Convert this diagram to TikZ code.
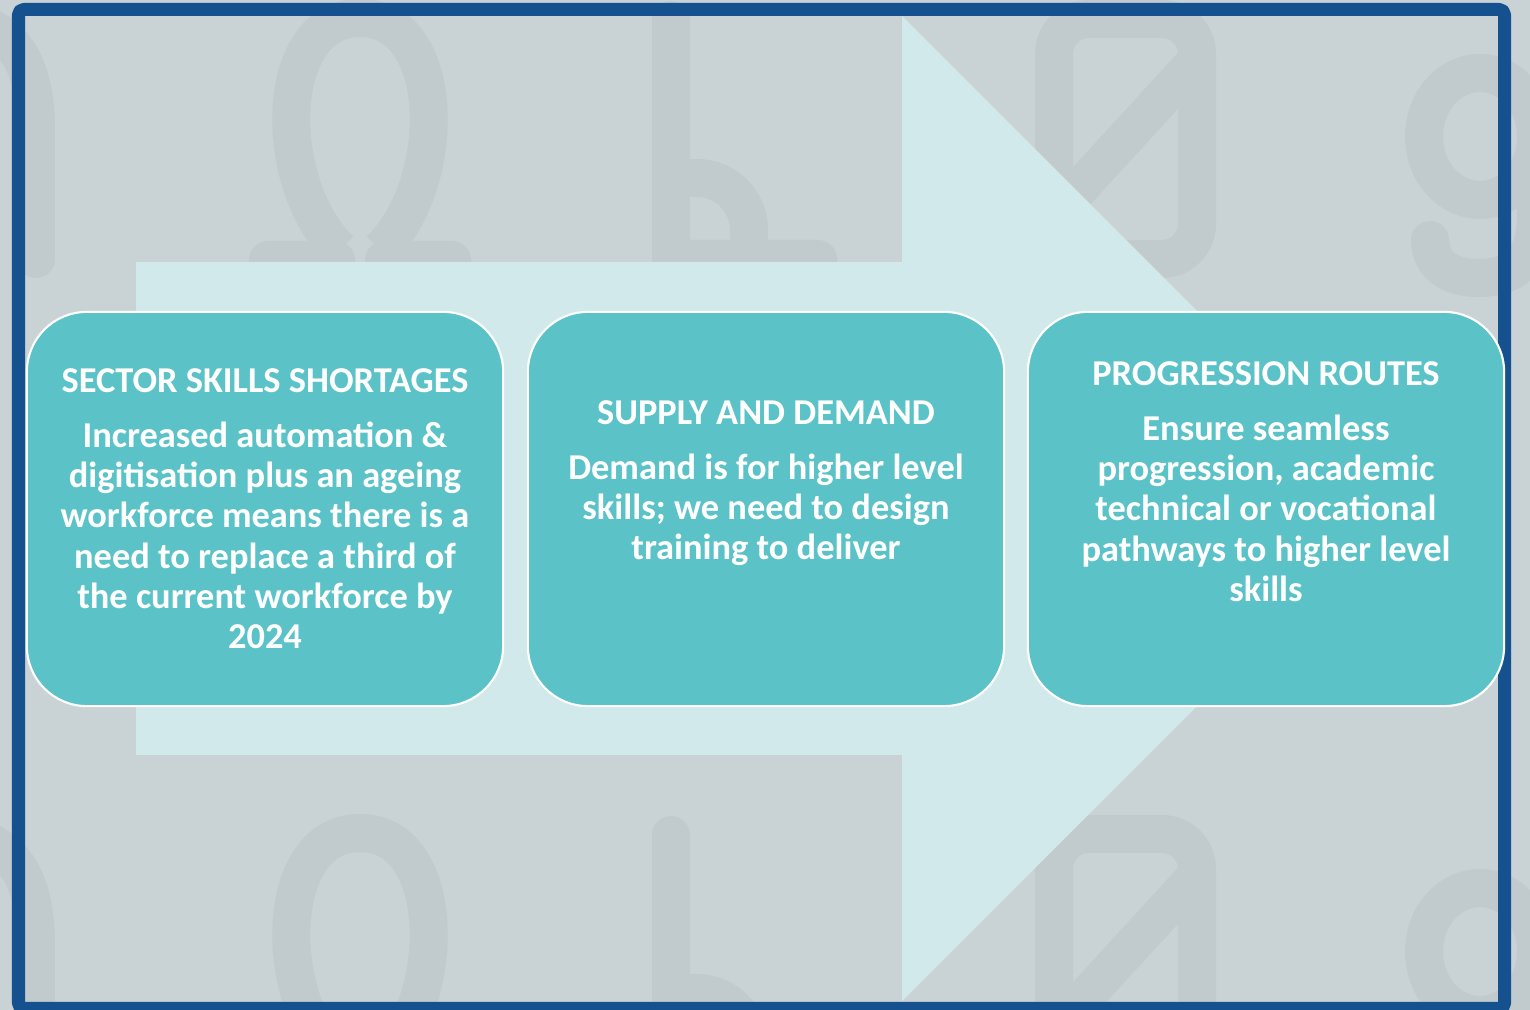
\documentclass[tikz,border=0pt]{standalone}
\usepackage{fontspec}
\setmainfont{Carlito}
\definecolor{bggray}{HTML}{C9D2D5}
\definecolor{glyphgray}{HTML}{C1CACD}
\definecolor{arrowcyan}{HTML}{D1E9EB}
\definecolor{stageteal}{HTML}{5BC3C7}
\definecolor{frameblue}{HTML}{15508F}
\begin{document}
\begin{tikzpicture}[x=0.01cm, y=-0.01cm, line join=round,
    glyph/.style={draw=glyphgray, line width=10.8pt},
    stage/.style={fill=stageteal, draw=white, line width=0.6pt, rounded corners=0.6cm,
      minimum width=4.76cm, minimum height=3.94cm, inner sep=0pt},
    stagetext/.style={text=white, font=\bfseries\fontsize{10.35}{11.4}\selectfont,
      align=center, inner sep=0pt, anchor=north}]
    \def\tipx{1394.5} \def\neck{902} % arrow head
    \useasboundingbox (0,0) rectangle (1530,1010);
    \clip (0,0) rectangle (1530,1010);
    \fill[bggray] (0,0) rectangle (1530,1010);
    % faint letters behind
    \foreach \dy in {0,815}{
      \begin{scope}[shift={(0,\dy)}]
        \draw[glyph, line cap=round] (36,259) -- (36,130) .. controls (36,60) and (10,30) .. (-30,20);
        \draw[glyph] (340,250) .. controls (272,185) and (272,18) .. (360,18)
          .. controls (448,18) and (448,185) .. (380,250);
        \fill[glyphgray, rounded corners=0.19cm] (249,241) rectangle (355,300);
        \fill[glyphgray, rounded corners=0.19cm] (365,241) rectangle (471,300);
        \draw[glyph, line cap=round] (671,20) -- (671,300);
        \draw[glyph] (671,178) -- (697,178) arc (-90:0:52) -- (749,280);
        \fill[glyphgray, rounded corners=0.19cm] (671,240) rectangle (837,300);
        \draw[glyph, rounded corners=0.35cm] (1054,19) rectangle (1197,259);
        \draw[glyph] (1197,60) -- (1054,216);
        \draw[glyph] (1480,136.5) ellipse (56 and 63.5);
        \draw[glyph, line cap=round] (1536,137) -- (1536,215) .. controls (1536,265) and (1510,278) .. (1478,278)
          .. controls (1450,278) and (1430,265) .. (1430,240);
      \end{scope}
    }
    % big arrow
    \fill[arrowcyan] (136,262) -- (\neck,262) -- (\neck,16) -- (\tipx,508.5)
      -- (\neck,1001) -- (\neck,755) -- (136,755) -- cycle;
    % frame
    \draw[frameblue, line width=3.7pt, rounded corners=1.5pt] (18.5,9.5) rectangle (1504.5,1008.5);
    % stages
    \node[stage] (shortages) at (265,509) {};
    \node[stage] (supply) at (766,509) {};
    \node[stage] (routes) at (1266,509) {};
    \node[stagetext] (shortagestext) at (265,368) {SECTOR SKILLS SHORTAGES\\[4.3pt]
      Increased automation \&\\ digitisation plus an ageing\\ workforce means there is a\\
      need to replace a third of\\ the current workforce by\\ 2024};
    \node[stagetext] (supplytext) at (766,400) {SUPPLY AND DEMAND\\[4.3pt]
      Demand is for higher level\\ skills; we need to design\\ training to deliver};
    \node[stagetext] (routestext) at (1266,361) {PROGRESSION ROUTES\\[4.3pt]
      Ensure seamless\\ progression, academic\\ technical or vocational\\
      pathways to higher level\\ skills};
\end{tikzpicture}
\end{document}
